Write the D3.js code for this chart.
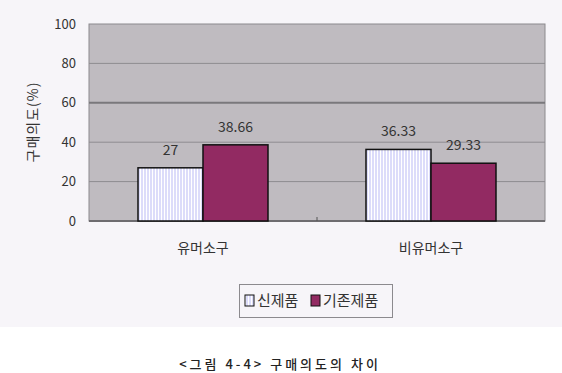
<!DOCTYPE html>
<html>
<head>
<meta charset="utf-8">
<script src="https://cdn.jsdelivr.net/npm/d3@7"></script>
<style>
  body { margin: 0; background: #fff; }
  text { font-family: "Noto Sans CJK KR", "Noto Sans", sans-serif; }
</style>
</head>
<body>
<div id="chart"></div>
<script>
// data
const categories = ["유머소구", "비유머소구"];
const seriesNames = ["신제품", "기존제품"];
const newProduct = [27, 36.33];
const oldProduct = [38.66, 29.33];
const yTicks = [0, 20, 40, 60, 80, 100];

const width = 562, height = 373;
const plot = {left: 89, right: 545, top: 24, bottom: 221};

let svg = d3.select("#chart").append("svg")
    .attr("width", width)
    .attr("height", height);

// pale panel behind the chart, white strip for the caption
svg.append("rect")
    .attr("width", width).attr("height", 327)
    .attr("fill", "#f7f5f9");

let defs = svg.append("defs");
let pat = defs.append("pattern")
    .attr("id", "stripes")
    .attr("patternUnits", "userSpaceOnUse")
    .attr("width", 3).attr("height", 4);
pat.append("rect").attr("width", 3).attr("height", 4).attr("fill", "#dcdcfa");
pat.append("rect").attr("width", 1).attr("height", 4).attr("fill", "#ffffff");

let x = d3.scaleBand()
    .domain(categories)
    .range([plot.left, plot.right]);

let xInner = d3.scaleBand()
    .domain(seriesNames)
    .range([0, x.bandwidth()])
    .paddingOuter(0.754);

let y = d3.scaleLinear()
    .domain([0, 100])
    .range([plot.bottom, plot.top]);

// plot background
svg.append("rect")
    .attr("x", plot.left).attr("y", plot.top)
    .attr("width", plot.right - plot.left).attr("height", plot.bottom - plot.top)
    .attr("fill", "#bfbbc0")
    .attr("stroke", "#8c8a8e");

// gridlines
svg.append("g")
    .selectAll("line")
    .data(yTicks.slice(1, -1))
    .join("line")
    .attr("x1", plot.left).attr("x2", plot.right)
    .attr("y1", (d) => y(d)).attr("y2", (d) => y(d))
    .attr("stroke", (d) => d === 60 ? "#7a787c" : "#8e8c90")
    .attr("stroke-width", (d) => d === 60 ? 2 : 1);

// y axis labels
let yAxis = svg.append("g")
    .attr("transform", `translate(${plot.left},0)`)
    .call(d3.axisLeft(y).tickValues(yTicks).tickSize(0).tickPadding(13));
yAxis.select(".domain").remove();
yAxis.selectAll("text")
    .attr("font-size", 13)
    .attr("fill", "#333");

// bottom axis line
svg.append("line")
    .attr("x1", plot.left).attr("x2", plot.right)
    .attr("y1", plot.bottom).attr("y2", plot.bottom)
    .attr("stroke", "#6e6c70").attr("stroke-width", 2);

// tick between categories
svg.append("line")
    .attr("x1", x(categories[1])).attr("x2", x(categories[1]))
    .attr("y1", plot.bottom - 4).attr("y2", plot.bottom)
    .attr("stroke", "#555");

// bars
let rows = categories.map((c, i) => ({
    cat: c,
    values: [
        {name: seriesNames[0], value: newProduct[i]},
        {name: seriesNames[1], value: oldProduct[i]}
    ]
}));

let groups = svg.append("g")
    .selectAll("g")
    .data(rows)
    .join("g")
    .attr("transform", (d) => `translate(${x(d.cat)},0)`);

groups.selectAll("rect")
    .data((d) => d.values)
    .join("rect")
    .attr("x", (d) => xInner(d.name))
    .attr("width", xInner.bandwidth())
    .attr("y", (d) => y(d.value))
    .attr("height", (d) => y(0) - y(d.value))
    .attr("fill", (d) => d.name === seriesNames[0] ? "url(#stripes)" : "#922a62")
    .attr("stroke", "#111")
    .attr("stroke-width", 1.5);

groups.selectAll("text")
    .data((d) => d.values)
    .join("text")
    .attr("x", (d) => xInner(d.name) + xInner.bandwidth() / 2)
    .attr("y", (d) => y(d.value) - 13)
    .attr("text-anchor", "middle")
    .attr("font-size", 14)
    .attr("fill", "#333")
    .text((d) => d.value);

// category labels
svg.append("g")
    .selectAll("text")
    .data(categories)
    .join("text")
    .attr("x", (d) => x(d) + x.bandwidth() / 2)
    .attr("y", 253)
    .attr("text-anchor", "middle")
    .attr("font-size", 14)
    .attr("fill", "#333")
    .text((d) => d);

// y title
svg.append("text")
    .attr("transform", "translate(38,122) rotate(-90)")
    .attr("text-anchor", "middle")
    .attr("font-size", 14)
    .attr("letter-spacing", 1)
    .attr("fill", "#333")
    .text("구매의도(%)");

// legend
let legend = svg.append("g");
legend.append("rect")
    .attr("x", 239.5).attr("y", 284.5)
    .attr("width", 153).attr("height", 33)
    .attr("fill", "#f7f5f9")
    .attr("stroke", "#8c8a8e");

let legendX = [245, 311];
let items = legend.selectAll("g")
    .data(seriesNames)
    .join("g")
    .attr("transform", (d, i) => `translate(${legendX[i]},0)`);
items.append("rect")
    .attr("x", 0).attr("y", 295)
    .attr("width", 9).attr("height", 11)
    .attr("fill", (d, i) => i === 0 ? "url(#stripes)" : "#922a62")
    .attr("stroke", "#111");
items.append("text")
    .attr("x", 12).attr("y", 306)
    .attr("font-size", 15)
    .attr("fill", "#333")
    .text((d) => d);

// caption
svg.append("text")
    .attr("x", 280).attr("y", 369)
    .attr("text-anchor", "middle")
    .attr("font-size", 13)
    .attr("font-weight", 500)
    .attr("letter-spacing", 3)
    .attr("fill", "#222")
    .text("<그림 4-4> 구매의도의 차이");
</script>
</body>
</html>
